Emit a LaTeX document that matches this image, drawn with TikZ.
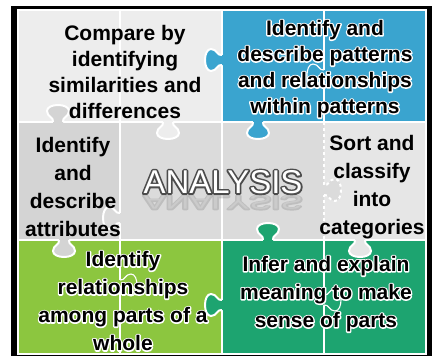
\documentclass[tikz,border=0pt]{standalone}
\usepackage{fontspec}
\setmainfont{Liberation Sans}
\usetikzlibrary{positioning}
\definecolor{paleGray}{HTML}{EDEDED}
\definecolor{midGray}{HTML}{D4D4D4}
\definecolor{ctrGray}{HTML}{DBDBDB}
\definecolor{liteGray}{HTML}{E6E6E6}
\definecolor{puzBlue}{HTML}{3AA4CF}
\definecolor{puzGreen}{HTML}{8CC63F}
\definecolor{puzTeal}{HTML}{1DA470}
\tikzset{
  seam/.style={white, line width=2pt},
  thinseam/.style={white, line width=1.1pt},
  lbl/.style={font=\bfseries\fontsize{21}{26}\selectfont, align=center, inner sep=0pt},
  lbltall/.style={lbl, font=\bfseries\fontsize{21}{28}\selectfont},
  title/.style={text=white, font=\fontsize{33}{33}\selectfont, inner sep=0pt},
}
% text with a stroked copy behind it: #1 stroke width, #2 stroke rgb, #3 text
\newcommand{\stroked}[3]{\rlap{\special{pdf:code q 1 Tr #1 w 1 J 1 j #2 RG}#3\special{pdf:code Q}}#3}
\newcommand{\halo}[1]{\stroked{2.6}{1 1 1}{#1}}
% #1 seam style, #2 fill, #3 x, #4 y, #5 angle
\newcommand{\knob}[5][seam]{%
  \begin{scope}[shift={(#3,#4)}, rotate=#5]
    \fill[#2] (-5,-1.5) -- (-5,0) .. controls (-4,5) and (-11,5) .. (-11,11)
      .. controls (-11,19) and (11,19) .. (11,11)
      .. controls (11,5) and (4,5) .. (5,0) -- (5,-1.5) -- cycle;
    \draw[#1] (-5,0) .. controls (-4,5) and (-11,5) .. (-11,11)
      .. controls (-11,19) and (11,19) .. (11,11)
      .. controls (11,5) and (4,5) .. (5,0);
  \end{scope}}
\begin{document}
\begin{tikzpicture}[x=1pt, y=-1pt]
  \useasboundingbox (0,0) rectangle (432,356);
  \fill[black] (11,6) rectangle (432,356);
  % pieces
  \fill[paleGray] (18,10) rectangle (222,122);
  \fill[puzBlue] (222,10) rectangle (426,122);
  \fill[midGray] (18,122) rectangle (120,240);
  \fill[ctrGray] (120,122) rectangle (324,240);
  \fill[liteGray] (324,122) rectangle (426,240);
  \fill[puzGreen] (18,240) rectangle (222,354);
  \fill[puzTeal] (222,240) rectangle (426,354);
  % seams
  \draw[thinseam] (120,10) -- (120,122);
  \draw[seam] (222,10) -- (222,122);
  \draw[thinseam] (324,10) -- (324,122);
  \draw[seam] (18,122) -- (426,122);
  \draw[seam] (120,122) -- (120,240);
  \draw[thinseam] (222,122) -- (222,240);
  \draw[seam, dashed] (324,122) -- (324,240);
  \draw[seam] (18,240) -- (426,240);
  \draw[thinseam] (120,240) -- (120,354);
  \draw[seam] (222,240) -- (222,354);
  \draw[thinseam] (324,240) -- (324,354);
  \draw[white, line width=1.2pt] (18,10) rectangle (426,354);
  % knobs
  \knob{puzBlue}{222}{60}{-90}
  \knob[thinseam]{puzBlue}{324}{75}{-90}
  \knob{paleGray}{168}{122}{0}
  \knob{puzBlue}{258}{122}{0}
  \knob{midGray}{58}{122}{180}
  \knob{ctrGray}{120}{218}{-90}
  \knob[seam, dashed]{ctrGray}{324}{190}{90}
  \knob{midGray}{64}{240}{0}
  \knob{puzTeal}{268}{240}{180}
  \knob{liteGray}{360}{240}{0}
  \knob{puzTeal}{222}{305}{-90}
  \knob[thinseam]{puzGreen}{120}{285}{90}
  \knob[thinseam]{puzTeal}{324}{300}{90}
  % labels
  \node[lbl] (compare) at (125,72) {Compare by\\identifying\\similarities and\\differences};
  \node[lbl] (patterns) at (325,69) {\halo{Identify and}\\\halo{describe patterns}\\\halo{and relationships}\\\halo{within patterns}};
  \node[lbltall] (attributes) at (73,187) {Identify\\and\\describe\\attributes};
  \node[lbltall] (classify) at (372,187) {Sort and\\classify\\into\\categories};
  \node[lbltall] (parts) at (123,301) {\halo{Identify}\\\halo{relationships}\\\halo{among parts of a}\\\halo{whole}};
  \node[lbltall] (meaning) at (326,294) {\halo{Infer and explain}\\\halo{meaning to make}\\\halo{sense of parts}};
  \node[title] (analysis) at (223,182) {\stroked{3.4}{0.3 0.3 0.3}{ANALYSIS}};
  \node[title, opacity=0.2, below=2pt of analysis.base]
    (mirror) {\scalebox{1}[-0.6]{\stroked{3.4}{0.3 0.3 0.3}{ANALYSIS}}};
\end{tikzpicture}
\end{document}
